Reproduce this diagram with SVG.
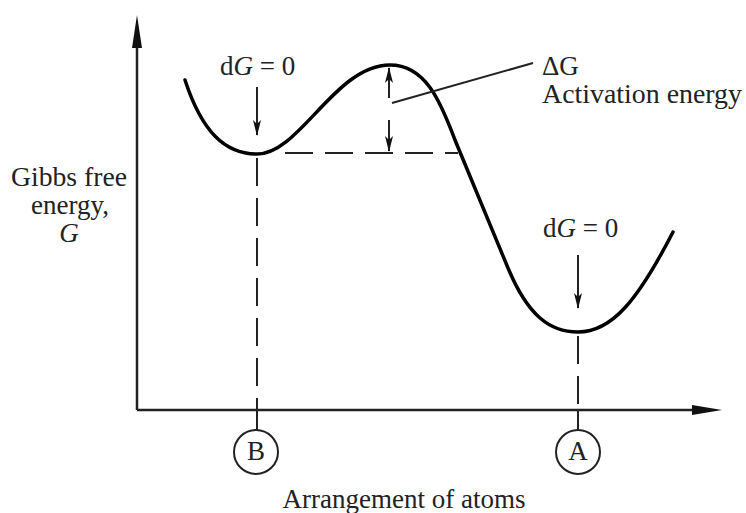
<svg xmlns="http://www.w3.org/2000/svg" width="746" height="513" viewBox="0 0 746 513">
<style>
text{font-family:"Liberation Serif","Times New Roman",serif;fill:#222;font-size:27px}
.ax{stroke:#222;stroke-width:2.5;fill:none}
.dash{stroke:#222;stroke-width:2;fill:none;stroke-dasharray:28 12}
.thin{stroke:#222;stroke-width:2;fill:none}
.curve{stroke:#000;stroke-width:3.5;fill:none;stroke-linecap:round}
</style>
<defs>
<marker id="ah" markerWidth="16" markerHeight="10" refX="15" refY="5" orient="auto" markerUnits="userSpaceOnUse">
<path d="M0,1 L16,5 L0,9 L4,5 Z" fill="#111"/>
</marker>
</defs>
<g id="axes">
<line class="ax" x1="137" y1="410" x2="137" y2="46"/>
<path d="M137,15 L142,48 L132,48 Z" fill="#111"/>
<line class="ax" x1="137" y1="410" x2="694" y2="410"/>
<path d="M722,410 L692,405 L692,415 Z" fill="#111"/>
</g>
<g id="curve">
<path class="curve" d="M185,80 C202,132 225,154 257,154 C300,154 335,65 390,65 C425,65 440,100 455,140 L508,268 C528,316 550,332 578,332 C612,332 638,300 673,232"/>
</g>
<g id="connectors">
<line class="dash" x1="285" y1="153" x2="458" y2="153"/>
<line class="dash" x1="257" y1="158" x2="257" y2="410"/>
<line class="thin" x1="257" y1="410" x2="257" y2="430"/>
<line class="dash" x1="578" y1="336" x2="578" y2="410"/>
<line class="thin" x1="578" y1="410" x2="578" y2="430"/>
<line class="thin" x1="257" y1="87" x2="257" y2="135" marker-end="url(#ah)"/>
<line class="thin" x1="578" y1="255" x2="578" y2="308" marker-end="url(#ah)"/>
<line class="thin" x1="389" y1="98" x2="389" y2="68" marker-end="url(#ah)"/>
<line class="thin" x1="389" y1="120" x2="389" y2="151" marker-end="url(#ah)"/>
<line class="thin" x1="392" y1="103" x2="533" y2="63"/>
</g>
<g id="label-dG-B"><text x="220" y="75">d<tspan font-style="italic">G</tspan> = 0</text></g>
<g id="label-dG-A"><text x="543" y="237">d<tspan font-style="italic">G</tspan> = 0</text></g>
<g id="label-activation">
<text x="542" y="75">ΔG</text>
<text x="542" y="103" textLength="200" lengthAdjust="spacingAndGlyphs">Activation energy</text>
</g>
<g id="label-y" text-anchor="middle" style="font-size:23px">
<text x="69" y="186" textLength="116" lengthAdjust="spacingAndGlyphs">Gibbs free</text>
<text x="70" y="214" textLength="78" lengthAdjust="spacingAndGlyphs">energy,</text>
<text x="69" y="242" font-style="italic">G</text>
</g>
<g id="node-B">
<circle cx="256" cy="452" r="22" class="thin"/>
<text x="256" y="460" text-anchor="middle" font-size="22">B</text>
</g>
<g id="node-A">
<circle cx="578" cy="452" r="22" class="thin"/>
<text x="578" y="460" text-anchor="middle" font-size="22">A</text>
</g>
<g id="label-x"><text x="404" y="508" text-anchor="middle">Arrangement of atoms</text></g>
</svg>
